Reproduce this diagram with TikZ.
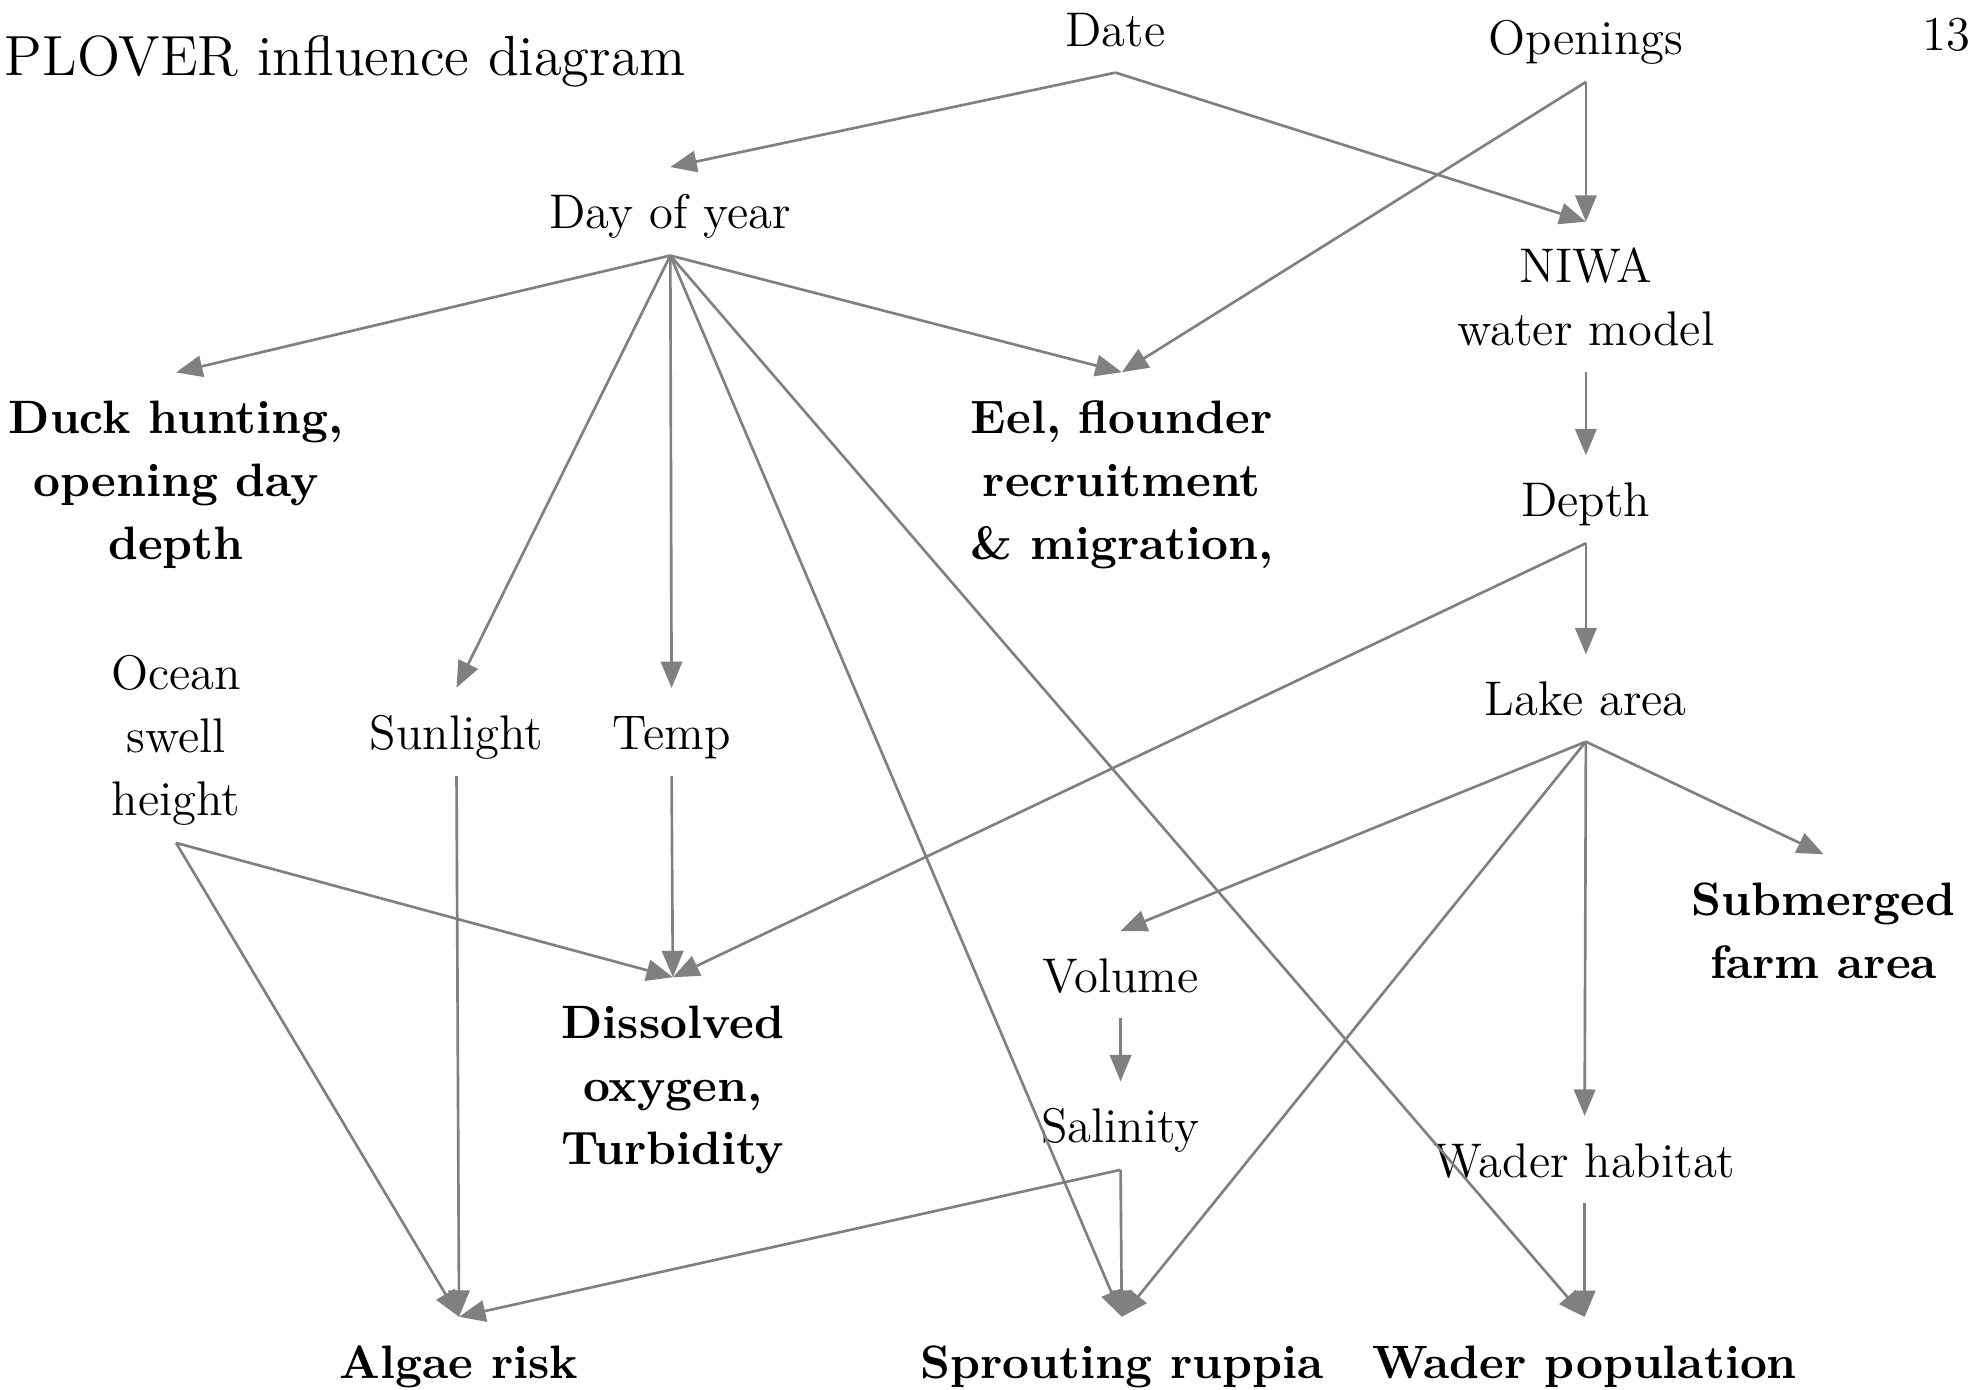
\documentclass[tikz,border=0pt]{standalone}
\usepackage{xcolor}
\usepackage{tikz}
\usetikzlibrary{
  arrows.meta,
  positioning
}
\definecolor{plGrey}{HTML}{808080}
\newcommand{\nodestrut}{\rule[-0.07cm]{0pt}{0.42cm}}
\tikzset{
  plnode/.style={
    inner xsep=2pt, inner ysep=0.13cm, align=center,
    font=\fontsize{11}{14.23}\selectfont
  },
  factor/.style={plnode},
  outcome/.style={plnode, font=\fontsize{10.6}{14.23}\selectfont\bfseries},
  heading/.style={inner sep=0pt, font=\fontsize{12.8}{16}\selectfont},
  link/.style={-{Triangle[length=2.1mm, width=1.7mm]}, line width=0.6pt, plGrey}
}

\begin{document}
\begin{tikzpicture}[x=0.01cm, y=-0.01cm]
  \useasboundingbox (0,0) rectangle (1568,1105);

  \node[heading, anchor=base west] (title) at (3,60) {PLOVER influence diagram};
  \node[plnode, inner sep=0pt, anchor=base east] (page) at (1567,40) {13};

  \node[factor] (date) at (887,23) {\nodestrut Date};
  \node[factor] (open) at (1261,30) {\nodestrut Openings};
  \node[factor] (doy) at (533,168) {\nodestrut Day of year};
  \node[factor] (niwa) at (1261,236) {\nodestrut NIWA\\\nodestrut water model};
  \node[outcome] (duck) at (140,381)
    {\nodestrut Duck hunting,\\\nodestrut opening day\\\nodestrut depth};
  \node[outcome] (eel) at (892,381)
    {\nodestrut Eel, flounder\\\nodestrut recruitment\\\nodestrut \& migration,};
  \node[factor] (depth) at (1261,397) {\nodestrut Depth};
  \node[factor] (lake) at (1261,555) {\nodestrut Lake area};
  \node[factor] (ocean) at (140,585) {\nodestrut Ocean\\\nodestrut swell\\\nodestrut height};
  \node[factor] (sun) at (363,582) {\nodestrut Sunlight};
  \node[factor] (temp) at (534,582) {\nodestrut Temp};
  \node[outcome] (farm) at (1450,739) {\nodestrut Submerged\\\nodestrut farm area};
  \node[factor] (vol) at (891,775) {\nodestrut Volume};
  \node[outcome] (dox) at (535,862)
    {\nodestrut Dissolved\\\nodestrut oxygen,\\\nodestrut Turbidity};
  \node[factor] (sal) at (891,895) {\nodestrut Salinity};
  \node[factor] (wadhab) at (1260,922) {\nodestrut Wader habitat};
  \node[outcome] (algae) at (365,1082) {\nodestrut Algae risk};
  \node[outcome] (ruppia) at (892,1082) {\nodestrut Sprouting ruppia};
  \node[outcome] (wadpop) at (1260,1082) {\nodestrut Wader population};

  \draw[link] (date.south) -- (doy.north);
  \draw[link] (date.south) -- (niwa.north);
  \draw[link] (open.south) -- (niwa.north);
  \draw[link] (open.south) -- (eel.north);
  \draw[link] (doy.south) -- (duck.north);
  \draw[link] (doy.south) -- (sun.north);
  \draw[link] (doy.south) -- (temp.north);
  \draw[link] (doy.south) -- (eel.north);
  \draw[link] (doy.south) -- (ruppia.north);
  \draw[link] (doy.south) -- (wadpop.north);
  \draw[link] (niwa.south) -- (depth.north);
  \draw[link] (depth.south) -- (lake.north);
  \draw[link] (depth.south) -- (dox.north);
  \draw[link] (ocean.south) -- (dox.north);
  \draw[link] (ocean.south) -- (algae.north);
  \draw[link] (sun.south) -- (algae.north);
  \draw[link] (temp.south) -- (dox.north);
  \draw[link] (lake.south) -- (vol.north);
  \draw[link] (lake.south) -- (farm.north);
  \draw[link] (lake.south) -- (wadhab.north);
  \draw[link] (lake.south) -- (ruppia.north);
  \draw[link] (vol.south) -- (sal.north);
  \draw[link] (sal.south) -- (algae.north);
  \draw[link] (sal.south) -- (ruppia.north);
  \draw[link] (wadhab.south) -- (wadpop.north);
\end{tikzpicture}
\end{document}
